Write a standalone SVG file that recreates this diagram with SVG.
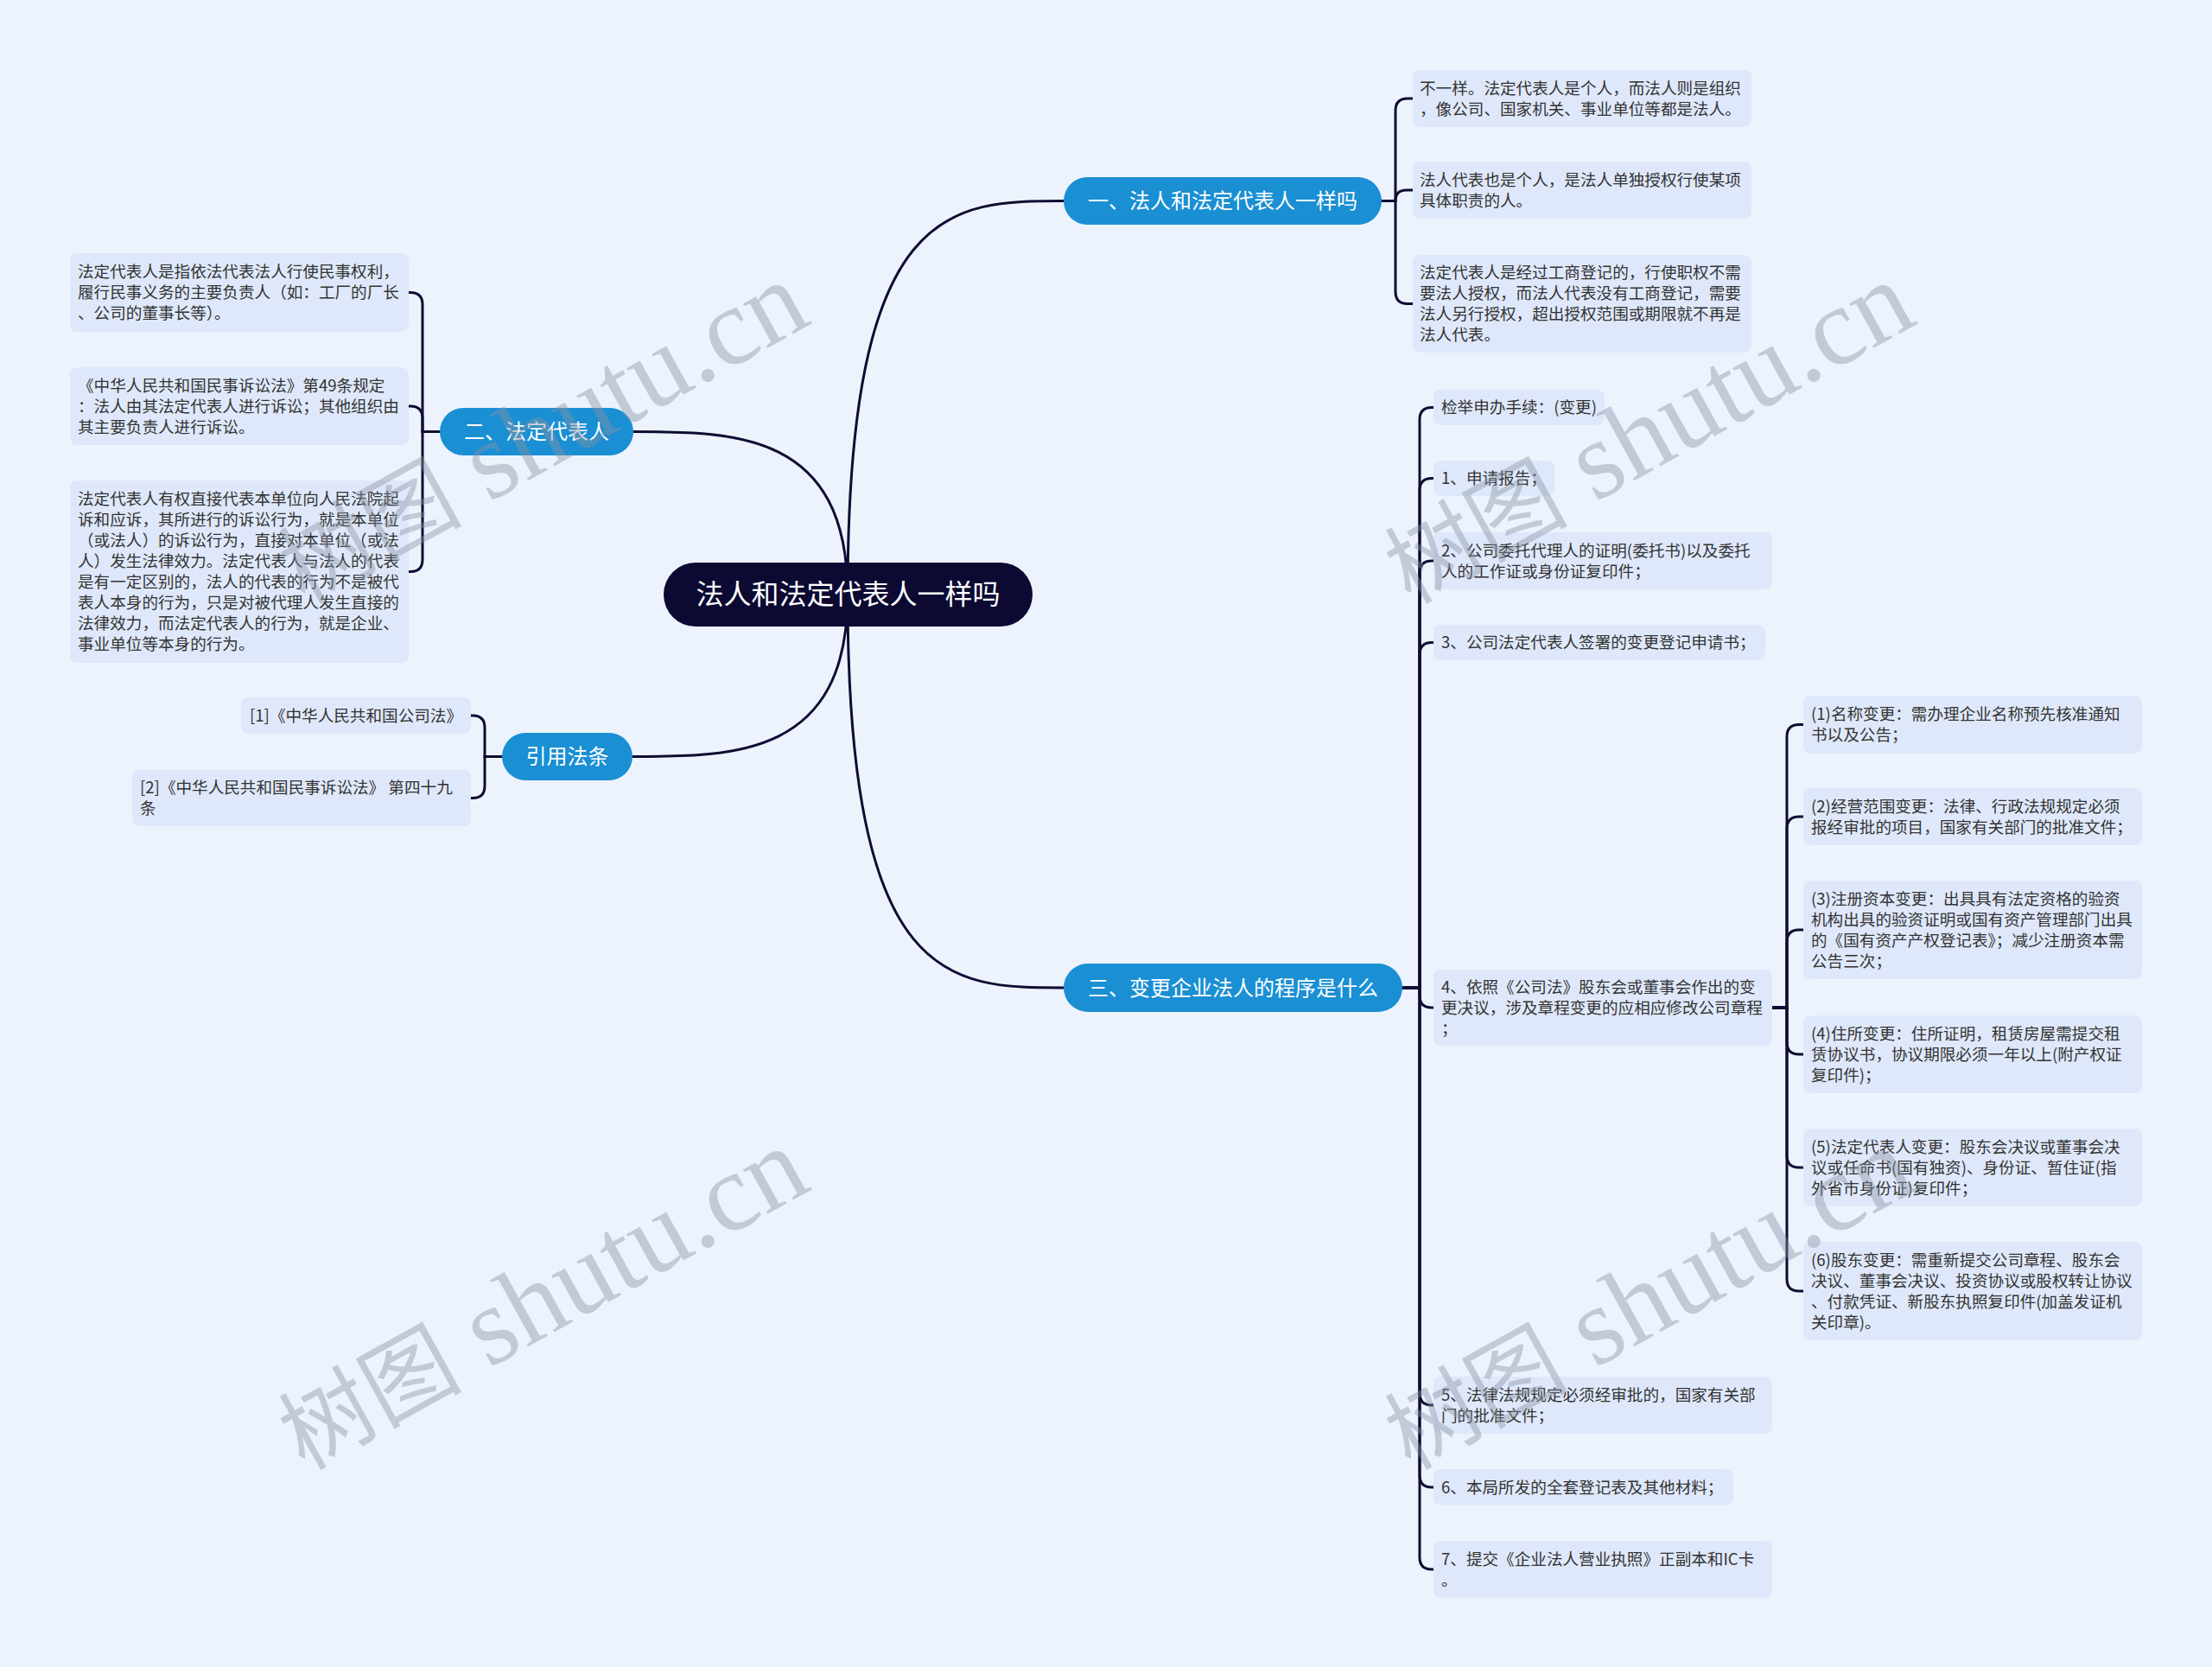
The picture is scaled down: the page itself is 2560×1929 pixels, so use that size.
<svg xmlns="http://www.w3.org/2000/svg" width="2560" height="1929" viewBox="0 0 2560 1929">
<style>
.bg{fill:#edf3fd}
.root{fill:#0c0a33}
.branch{fill:#1a8fd3}
.leaf{fill:#dfe8fa}
.rt{font-family:"Noto Sans CJK SC","Noto Sans",sans-serif;font-size:32px;fill:#ffffff;text-anchor:middle}
.bt{font-family:"Noto Sans CJK SC","Noto Sans",sans-serif;font-size:24px;fill:#ffffff;text-anchor:middle}
.lt{font-family:"Noto Sans CJK SC","Noto Sans",sans-serif;font-size:18.6px;fill:#333333}
.conn path{fill:none;stroke:#0f0c33;stroke-width:3;stroke-linecap:round}
.wm{font-family:"Liberation Serif","Noto Sans CJK SC",serif;font-size:128px;fill:#8a93a3;opacity:0.42}
.wm .cj{font-size:106px}
</style>
<rect class="bg" x="0" y="0" width="2560" height="1929"/>

<g id="connectors" class="conn">
<path d="M981 688 C981 232.5 1100 232.5 1231 232.5"/>
<path d="M981 688 C981 499.5 850 499.5 733 499.5"/>
<path d="M981 688 C981 875.5 850 875.5 732 875.5"/>
<path d="M981 688 C981 1143 1100 1143 1231 1143"/>

<path d="M1599 232.5 H1615 V128 Q1615 114 1629 114 H1635"/>
<path d="M1599 232.5 H1615 Q1615 220 1627.5 220 H1635"/>
<path d="M1599 232.5 H1615 V337.5 Q1615 351.5 1629 351.5 H1635"/>

<path d="M509 499.5 H489 V352.5 Q489 338.5 475 338.5 H473"/>
<path d="M509 499.5 H489 V484 Q489 470 475 470 H473"/>
<path d="M509 499.5 H489 V647.5 Q489 661.5 475 661.5 H473"/>

<path d="M581 875.5 H561 V842 Q561 828 547 828 H545"/>
<path d="M581 875.5 H561 V909.5 Q561 923.5 547 923.5 H545"/>

<path d="M1623 1143 H1643 V485.5 Q1643 471.5 1657 471.5 H1659"/>
<path d="M1623 1143 H1643 V567.5 Q1643 553.5 1657 553.5 H1659"/>
<path d="M1623 1143 H1643 V663 Q1643 649 1657 649 H1659"/>
<path d="M1623 1143 H1643 V757.5 Q1643 743.5 1657 743.5 H1659"/>
<path d="M1623 1143 H1643 V1152 Q1643 1166 1657 1166 H1659"/>
<path d="M1623 1143 H1643 V1612 Q1643 1626 1657 1626 H1659"/>
<path d="M1623 1143 H1643 V1707 Q1643 1721 1657 1721 H1659"/>
<path d="M1623 1143 H1643 V1802 Q1643 1816 1657 1816 H1659"/>

<path d="M2051 1166 H2068 V852.5 Q2068 838.5 2082 838.5 H2087"/>
<path d="M2051 1166 H2068 V959 Q2068 945 2082 945 H2087"/>
<path d="M2051 1166 H2068 V1090 Q2068 1076 2082 1076 H2087"/>
<path d="M2051 1166 H2068 V1206 Q2068 1220 2082 1220 H2087"/>
<path d="M2051 1166 H2068 V1337 Q2068 1351 2082 1351 H2087"/>
<path d="M2051 1166 H2068 V1480 Q2068 1494 2082 1494 H2087"/>
</g>

<g id="root">
<rect class="root" x="768" y="651" width="427" height="74" rx="37"/>
<text class="rt" x="981.5" y="699">法人和法定代表人一样吗</text>
</g>

<g id="b1">
<rect class="branch" x="1231" y="205" width="368" height="55" rx="27.5"/>
<text class="bt" x="1415" y="241">一、法人和法定代表人一样吗</text>
</g>
<g id="b1-1">
<rect class="leaf" x="1635" y="81" width="392" height="66" rx="8"/>
<text class="lt"><tspan x="1643" y="108.5">不一样。法定代表人是个人，而法人则是组织</tspan><tspan x="1643" y="132.5">，像公司、国家机关、事业单位等都是法人。</tspan></text>
</g>
<g id="b1-2">
<rect class="leaf" x="1635" y="187" width="392" height="66" rx="8"/>
<text class="lt"><tspan x="1643" y="214.5">法人代表也是个人，是法人单独授权行使某项</tspan><tspan x="1643" y="238.5">具体职责的人。</tspan></text>
</g>
<g id="b1-3">
<rect class="leaf" x="1635" y="295" width="392" height="113" rx="8"/>
<text class="lt"><tspan x="1643" y="322">法定代表人是经过工商登记的，行使职权不需</tspan><tspan x="1643" y="346">要法人授权，而法人代表没有工商登记，需要</tspan><tspan x="1643" y="370">法人另行授权，超出授权范围或期限就不再是</tspan><tspan x="1643" y="394">法人代表。</tspan></text>
</g>

<g id="b2">
<rect class="branch" x="509" y="472" width="224" height="55" rx="27.5"/>
<text class="bt" x="621" y="508">二、法定代表人</text>
</g>
<g id="b2-1">
<rect class="leaf" x="81" y="293" width="392" height="91" rx="8"/>
<text class="lt"><tspan x="90" y="321">法定代表人是指依法代表法人行使民事权利，</tspan><tspan x="90" y="345">履行民事义务的主要负责人（如：工厂的厂长</tspan><tspan x="90" y="369">、公司的董事长等）。</tspan></text>
</g>
<g id="b2-2">
<rect class="leaf" x="81" y="425" width="392" height="90" rx="8"/>
<text class="lt"><tspan x="90" y="452.5">《中华人民共和国民事诉讼法》第49条规定</tspan><tspan x="90" y="476.5">：法人由其法定代表人进行诉讼；其他组织由</tspan><tspan x="90" y="500.5">其主要负责人进行诉讼。</tspan></text>
</g>
<g id="b2-3">
<rect class="leaf" x="81" y="556" width="392" height="211" rx="8"/>
<text class="lt"><tspan x="90" y="584">法定代表人有权直接代表本单位向人民法院起</tspan><tspan x="90" y="608">诉和应诉，其所进行的诉讼行为，就是本单位</tspan><tspan x="90" y="632">（或法人）的诉讼行为，直接对本单位（或法</tspan><tspan x="90" y="656">人）发生法律效力。法定代表人与法人的代表</tspan><tspan x="90" y="680">是有一定区别的，法人的代表的行为不是被代</tspan><tspan x="90" y="704">表人本身的行为，只是对被代理人发生直接的</tspan><tspan x="90" y="728">法律效力，而法定代表人的行为，就是企业、</tspan><tspan x="90" y="752">事业单位等本身的行为。</tspan></text>
</g>

<g id="b4">
<rect class="branch" x="581" y="848" width="151" height="55" rx="27.5"/>
<text class="bt" x="656.5" y="884">引用法条</text>
</g>
<g id="b4-1">
<rect class="leaf" x="279" y="807" width="266" height="42" rx="8"/>
<text class="lt"><tspan x="289" y="834.5">[1]《中华人民共和国公司法》</tspan></text>
</g>
<g id="b4-2">
<rect class="leaf" x="153" y="891" width="392" height="65" rx="8"/>
<text class="lt"><tspan x="162" y="918">[2]《中华人民共和国民事诉讼法》 第四十九</tspan><tspan x="162" y="942">条</tspan></text>
</g>

<g id="b3">
<rect class="branch" x="1231" y="1115" width="392" height="56" rx="28"/>
<text class="bt" x="1427" y="1151.5">三、变更企业法人的程序是什么</text>
</g>
<g id="b3-0">
<rect class="leaf" x="1659" y="451" width="198" height="41" rx="8"/>
<text class="lt"><tspan x="1668" y="478">检举申办手续：(变更)</tspan></text>
</g>
<g id="b3-1">
<rect class="leaf" x="1659" y="533" width="140" height="41" rx="8"/>
<text class="lt"><tspan x="1668" y="560">1、申请报告；</tspan></text>
</g>
<g id="b3-2">
<rect class="leaf" x="1659" y="616" width="392" height="66" rx="8"/>
<text class="lt"><tspan x="1668" y="643.5">2、公司委托代理人的证明(委托书)以及委托</tspan><tspan x="1668" y="667.5">人的工作证或身份证复印件；</tspan></text>
</g>
<g id="b3-3">
<rect class="leaf" x="1659" y="723" width="384" height="41" rx="8"/>
<text class="lt"><tspan x="1668" y="750">3、公司法定代表人签署的变更登记申请书；</tspan></text>
</g>
<g id="b3-4">
<rect class="leaf" x="1659" y="1122" width="392" height="88" rx="8"/>
<text class="lt"><tspan x="1668" y="1148.5">4、依照《公司法》股东会或董事会作出的变</tspan><tspan x="1668" y="1172.5">更决议，涉及章程变更的应相应修改公司章程</tspan><tspan x="1668" y="1196.5">；</tspan></text>
</g>
<g id="b3-5">
<rect class="leaf" x="1659" y="1593" width="392" height="66" rx="8"/>
<text class="lt"><tspan x="1668" y="1620.5">5、法律法规规定必须经审批的，国家有关部</tspan><tspan x="1668" y="1644.5">门的批准文件；</tspan></text>
</g>
<g id="b3-6">
<rect class="leaf" x="1659" y="1700" width="347" height="42" rx="8"/>
<text class="lt"><tspan x="1668" y="1727.5">6、本局所发的全套登记表及其他材料；</tspan></text>
</g>
<g id="b3-7">
<rect class="leaf" x="1659" y="1783" width="392" height="66" rx="8"/>
<text class="lt"><tspan x="1668" y="1810.5">7、提交《企业法人营业执照》正副本和IC卡</tspan><tspan x="1668" y="1834.5">。</tspan></text>
</g>

<g id="b3-4-1">
<rect class="leaf" x="2087" y="805" width="392" height="67" rx="8"/>
<text class="lt"><tspan x="2096" y="833">(1)名称变更：需办理企业名称预先核准通知</tspan><tspan x="2096" y="857">书以及公告；</tspan></text>
</g>
<g id="b3-4-2">
<rect class="leaf" x="2087" y="912" width="392" height="66" rx="8"/>
<text class="lt"><tspan x="2096" y="939.5">(2)经营范围变更：法律、行政法规规定必须</tspan><tspan x="2096" y="963.5">报经审批的项目，国家有关部门的批准文件；</tspan></text>
</g>
<g id="b3-4-3">
<rect class="leaf" x="2087" y="1019" width="392" height="114" rx="8"/>
<text class="lt"><tspan x="2096" y="1046.5">(3)注册资本变更：出具具有法定资格的验资</tspan><tspan x="2096" y="1070.5">机构出具的验资证明或国有资产管理部门出具</tspan><tspan x="2096" y="1094.5">的《国有资产产权登记表》；减少注册资本需</tspan><tspan x="2096" y="1118.5">公告三次；</tspan></text>
</g>
<g id="b3-4-4">
<rect class="leaf" x="2087" y="1175" width="392" height="90" rx="8"/>
<text class="lt"><tspan x="2096" y="1202.5">(4)住所变更：住所证明，租赁房屋需提交租</tspan><tspan x="2096" y="1226.5">赁协议书，协议期限必须一年以上(附产权证</tspan><tspan x="2096" y="1250.5">复印件)；</tspan></text>
</g>
<g id="b3-4-5">
<rect class="leaf" x="2087" y="1306" width="392" height="90" rx="8"/>
<text class="lt"><tspan x="2096" y="1333.5">(5)法定代表人变更：股东会决议或董事会决</tspan><tspan x="2096" y="1357.5">议或任命书(国有独资)、身份证、暂住证(指</tspan><tspan x="2096" y="1381.5">外省市身份证)复印件；</tspan></text>
</g>
<g id="b3-4-6">
<rect class="leaf" x="2087" y="1437" width="392" height="114" rx="8"/>
<text class="lt"><tspan x="2096" y="1464.5">(6)股东变更：需重新提交公司章程、股东会</tspan><tspan x="2096" y="1488.5">决议、董事会决议、投资协议或股权转让协议</tspan><tspan x="2096" y="1512.5">、付款凭证、新股东执照复印件(加盖发证机</tspan><tspan x="2096" y="1536.5">关印章)。</tspan></text>
</g>

<g id="watermarks">
<text class="wm" transform="translate(352,700) rotate(-29)"><tspan class="cj">树图</tspan> shutu.cn</text>
<text class="wm" transform="translate(352,1702) rotate(-29)"><tspan class="cj">树图</tspan> shutu.cn</text>
<text class="wm" transform="translate(1632,700) rotate(-29)"><tspan class="cj">树图</tspan> shutu.cn</text>
<text class="wm" transform="translate(1632,1702) rotate(-29)"><tspan class="cj">树图</tspan> shutu.cn</text>
</g>
</svg>
